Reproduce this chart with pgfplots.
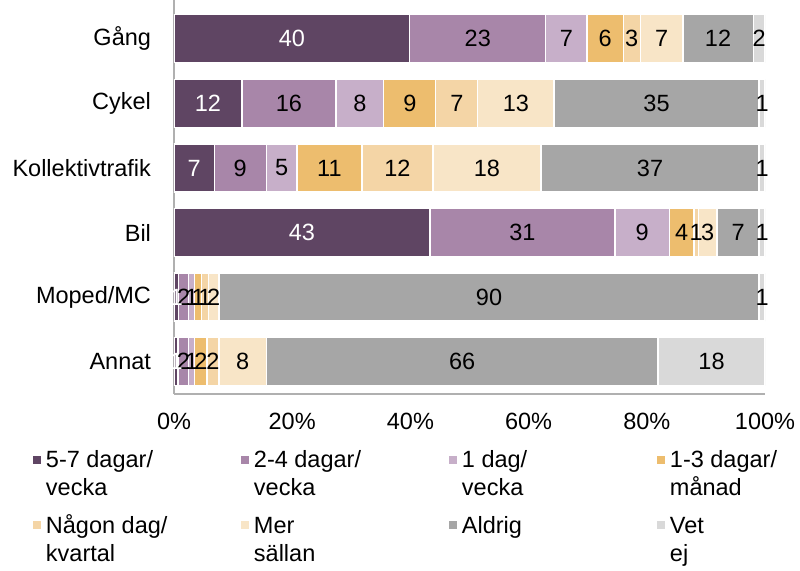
\documentclass[border=0pt]{standalone}
\usepackage{pgfplots}
\pgfplotsset{compat=1.18}
\usepackage{fontspec}
\setmainfont{Liberation Sans}
\definecolor{c1}{HTML}{5F4563}
\definecolor{c2}{HTML}{A886A9}
\definecolor{c3}{HTML}{C7AFC9}
\definecolor{c4}{HTML}{EDBD6E}
\definecolor{c5}{HTML}{F4D5A6}
\definecolor{c6}{HTML}{F8E5C7}
\definecolor{c7}{HTML}{A6A6A6}
\definecolor{c8}{HTML}{D9D9D9}
\definecolor{axgray}{HTML}{B0B0B0}
\newcommand{\legtxt}[2]{\begin{tabular}[t]{@{}p{195pt}@{}}#1\\#2\end{tabular}}
\newcommand{\legtxtB}[2]{\begin{tabular}[t]{@{}l@{}}#1\\#2\end{tabular}}
\begin{document}
\fontsize{23.5}{28}\selectfont
\begin{tikzpicture}
\useasboundingbox (-174pt,-176pt) rectangle (626pt,394pt);
\begin{axis}[
  xbar stacked,
  scale only axis, width=591pt, height=394pt,
  xmin=0, xmax=100, ymin=-0.6, ymax=5.5, y dir=reverse,
  bar width=48pt,
  axis x line*=bottom, axis y line*=left,
  x axis line style={draw=axgray, line width=1.2pt, -},
  y axis line style={draw=axgray, line width=1.4pt, -},
  major tick length=0pt,
  ytick={0,...,5},
  yticklabels={Gång,Cykel,Kollektivtrafik,Bil,Moped/MC,Annat},
  xtick={0,20,...,100},
  xticklabel={\pgfmathprintnumber{\tick}\%},
  /pgf/number format/assume math mode=true,
  tick label style={font=\fontsize{23.5}{28}\selectfont},
  yticklabel style={xshift=-15pt},
  xticklabel style={yshift=-11pt},
  every axis plot/.append style={draw=white, line width=1.3pt},
  point meta=explicit,
  nodes near coords,
  every node near coord/.append style={font=\fontsize{23.5}{28}\selectfont, text=black},
  legend style={at={(-0.239,-0.135)}, anchor=north west, draw=none, fill=none,
    legend columns=4, font=\fontsize{23.5}{28}\selectfont,
    /tikz/every odd column/.append style={column sep=5pt},
    /tikz/every even column/.append style={column sep=0pt},
    row sep=40pt, inner sep=0pt,
    nodes={inner xsep=0pt, inner ysep=1pt}},
  legend cell align=left,
  legend image code/.code={\fill[#1, draw=none] (0pt,-4pt) rectangle (8pt,4pt);},
]
\addplot[fill=c1, every node near coord/.append style={text=white}] table[x=x,y=y,meta=m] {
x y m
39.9 0 40
11.5 1 12
6.8 2 7
43.3 3 43
0.8 4 1
0.7 5 1
};
\addplot[fill=c2] table[x=x,y=y,meta=m] {
x y m
23.0 0 23
15.9 1 16
8.8 2 9
31.3 3 31
1.7 4 2
1.8 5 2
};
\addplot[fill=c3] table[x=x,y=y,meta=m] {
x y m
7.0 0 7
8.1 1 8
5.2 2 5
9.2 3 9
1.0 4 1
1.0 5 1
};
\addplot[fill=c4] table[x=x,y=y,meta=m] {
x y m
6.1 0 6
8.8 1 9
11.0 2 11
4.2 3 4
1.2 4 1
2.1 5 2
};
\addplot[fill=c5] table[x=x,y=y,meta=m] {
x y m
2.9 0 3
7.1 1 7
12.0 2 12
0.7 3 1
1.1 4 1
2.0 5 2
};
\addplot[fill=c6] table[x=x,y=y,meta=m] {
x y m
7.2 0 7
12.9 1 13
18.3 2 18
3.2 3 3
1.8 4 2
8.0 5 8
};
\addplot[fill=c7] table[x=x,y=y,meta=m] {
x y m
11.9 0 12
34.7 1 35
36.9 2 37
7.1 3 7
91.4 4 90
66.3 5 66
};
\addplot[fill=c8] table[x=x,y=y,meta=m] {
x y m
2.0 0 2
1.0 1 1
1.0 2 1
1.0 3 1
1.0 4 1
18.1 5 18
};
\legend{\legtxt{5-7 dagar/}{vecka},\legtxt{2-4 dagar/}{vecka},\legtxt{1 dag/}{vecka},\legtxtB{1-3 dagar/}{månad},\legtxt{Någon dag/}{kvartal},\legtxt{Mer}{sällan},\legtxt{Aldrig}{},\legtxtB{Vet}{ej}}
\end{axis}
\end{tikzpicture}
\end{document}
